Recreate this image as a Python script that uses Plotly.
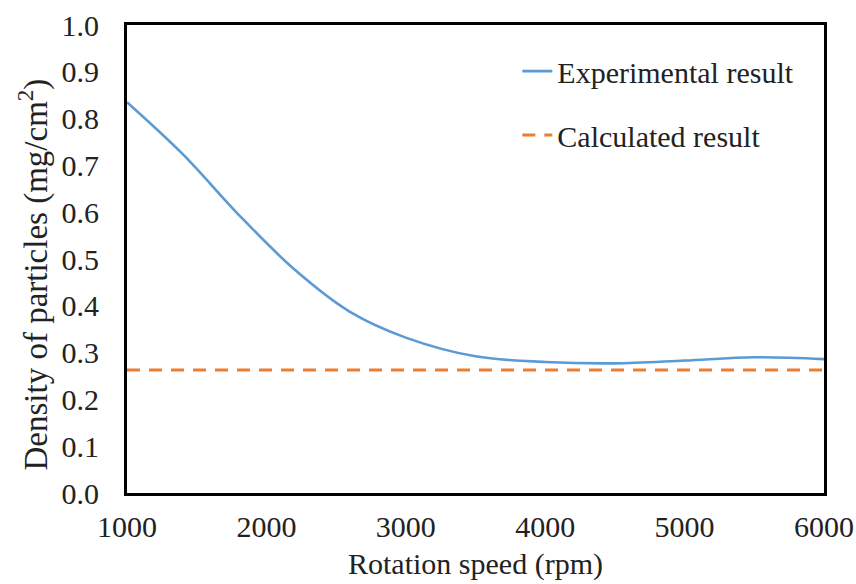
import plotly.graph_objects as go

speed = [1000, 1400, 1800, 2200, 2600, 3000, 3500, 4000, 4500, 5000, 5500, 6000]
experimental = [0.835, 0.724, 0.595, 0.478, 0.387, 0.332, 0.292, 0.280, 0.277, 0.283, 0.290, 0.286]
calc_x = [1000, 6000]
calculated = [0.263, 0.263]

FONT = "Times New Roman, Liberation Serif, serif"
FS = 30

fig = go.Figure()
fig.add_trace(go.Scatter(x=speed, y=experimental, mode="lines",
                         line=dict(color="#5B9BD5", width=2.6, shape="spline", smoothing=1.0),
                         name="Experimental result", legendgroup="a"))
fig.add_trace(go.Scatter(x=calc_x, y=calculated, mode="lines",
                         line=dict(color="#ED7D31", width=3, dash="13px,9px"),
                         name="Calculated result", legendgroup="b"))

fig.update_layout(
    width=856, height=584,
    margin=dict(l=127, r=32, t=25, b=91),
    paper_bgcolor="white", plot_bgcolor="white",
    font=dict(family=FONT, size=FS, color="#222"),
    legend=dict(x=0.56, y=0.957, xanchor="left", yanchor="top",
                font=dict(family=FONT, size=FS, color="#222"),
                tracegroupgap=22, bgcolor="rgba(0,0,0,0)"),
    xaxis=dict(range=[1000, 6000], tickvals=[1000, 2000, 3000, 4000, 5000, 6000],
               showgrid=False, zeroline=False, showline=True, linecolor="black",
               linewidth=3, mirror=True, ticks="", ticklabelstandoff=5,
               tickfont=dict(size=FS), automargin=False,
               title=dict(text="Rotation speed (rpm)", font=dict(size=FS), standoff=11)),
    yaxis=dict(range=[0, 1.0], tickvals=[i / 10 for i in range(11)],
               tickformat=".1f", ticklabelstandoff=19,
               tickfont=dict(size=FS), automargin=False,
               showgrid=False, zeroline=False, showline=True, linecolor="black",
               linewidth=3, mirror=True, ticks=""),
    annotations=[dict(text="Density of particles (mg/cm<sup>2</sup>)", textangle=-90,
                      xref="paper", yref="paper", x=-0.134, y=0.466,
                      xanchor="center", yanchor="middle", showarrow=False,
                      font=dict(family=FONT, size=33, color="#222"))],
)

fig.write_html("out.html", config={"displayModeBar": False},
               post_script="document.body.style.margin='0';")
